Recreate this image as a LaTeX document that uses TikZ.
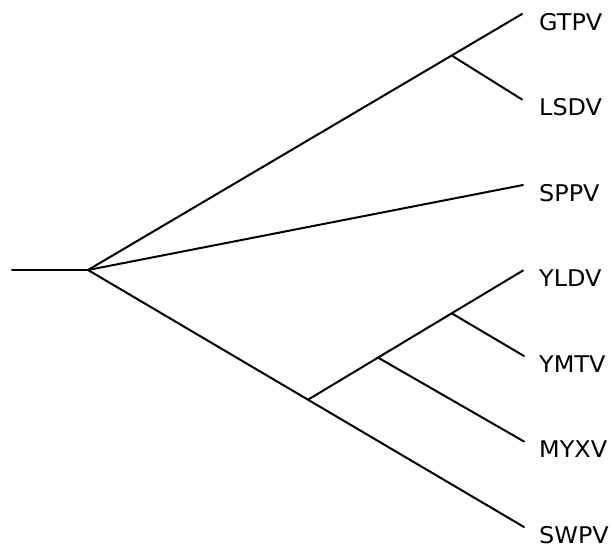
\documentclass[tikz,border=0pt]{standalone}
\usepackage{fontspec}
\setmainfont[FakeStretch=1.04]{DejaVu Sans}
\begin{document}
\begin{tikzpicture}[x=1pt,y=-1pt,
  branch/.style={line width=2pt,line cap=round},
  leaf/.style={anchor=base west,inner sep=0pt,font=\fontsize{23}{25}\selectfont}]
\useasboundingbox (0,0) rectangle (612,552);
% internal nodes
\coordinate (start) at (12,270);
\coordinate (R) at (88,270);
\coordinate (A) at (451.7,55.5);
\coordinate (B) at (308,399.7);
\coordinate (C) at (378,357.6);
\coordinate (D) at (451.7,313.3);
% leaf tips
\coordinate (tGTPV) at (522,14);
\coordinate (tLSDV) at (522,99.5);
\coordinate (tSPPV) at (523,185);
\coordinate (tYLDV) at (523,270.5);
\coordinate (tYMTV) at (524,356);
\coordinate (tMYXV) at (524,441.5);
\coordinate (tSWPV) at (524,527);
% labels
\node[leaf] (GTPV) at (539,30) {GTPV};
\node[leaf] (LSDV) at (539,115.5) {LSDV};
\node[leaf] (SPPV) at (539,201) {SPPV};
\node[leaf] (YLDV) at (539,286.5) {YLDV};
\node[leaf] (YMTV) at (539,372) {YMTV};
\node[leaf] (MYXV) at (539,457.5) {MYXV};
\node[leaf] (SWPV) at (539,543) {SWPV};
% branches
\draw[branch] (start) -- (R);
\draw[branch] (R) -- (A) -- (tGTPV);
\draw[branch] (A) -- (tLSDV);
\draw[branch] (R) -- (tSPPV);
\draw[branch] (R) -- (B) -- (tSWPV);
\draw[branch] (B) -- (C) -- (D) -- (tYLDV);
\draw[branch] (D) -- (tYMTV);
\draw[branch] (C) -- (tMYXV);
\end{tikzpicture}
\end{document}
